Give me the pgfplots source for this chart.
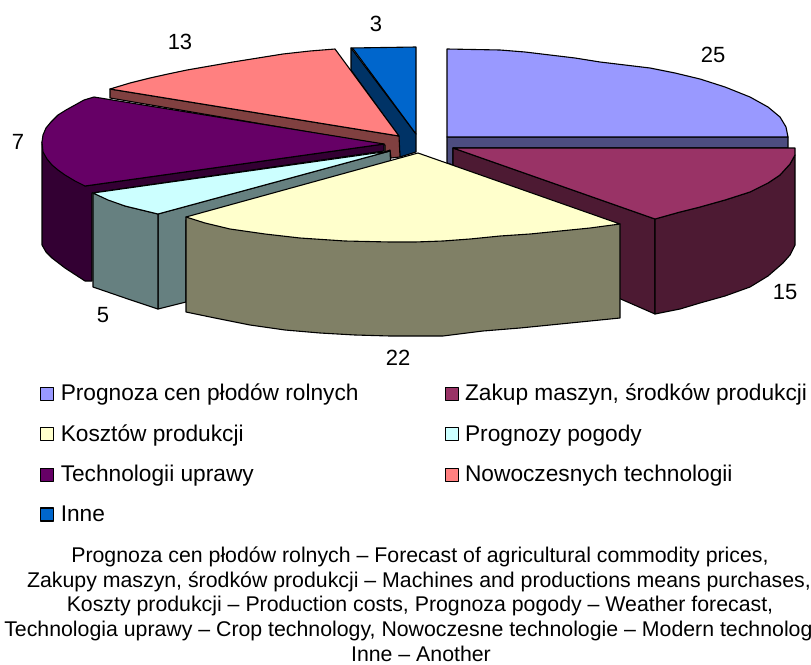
\documentclass[border=0pt]{standalone}
\usepackage{pgfplots}
\pgfplotsset{compat=1.18}
\usepackage{fontspec}
\setmainfont{Liberation Sans}
\definecolor{c1}{HTML}{9999FF}\definecolor{d1}{HTML}{4D4D80}
\definecolor{c2}{HTML}{993366}\definecolor{d2}{HTML}{4D1A33}
\definecolor{c3}{HTML}{FFFFCC}\definecolor{d3}{HTML}{808066}
\definecolor{c4}{HTML}{CCFFFF}\definecolor{d4}{HTML}{668080}
\definecolor{c5}{HTML}{660066}\definecolor{d5}{HTML}{330033}
\definecolor{c6}{HTML}{FF8080}\definecolor{d6}{HTML}{804040}
\definecolor{c7}{HTML}{0066CC}\definecolor{d7}{HTML}{003366}
\newcommand{\lbl}[3]{\node[font=\fontsize{22}{24}\selectfont,inner sep=0pt] at (axis cs:#1,#2) {#3};}
\begin{document}
\begin{tikzpicture}[x=1pt,y=1pt]
\useasboundingbox (0,0) rectangle (811pt,664pt);
\clip (0,0) rectangle (811pt,664pt);
\begin{axis}[
  at={(0,0)},anchor=south west,scale only axis,width=811pt,height=664pt,
  xmin=0,xmax=811,ymin=0,ymax=664,y dir=reverse,hide axis,
  every axis plot/.append style={draw=black,line width=1.1pt,line join=round,no markers},
  area legend,
  legend columns=2,
  legend cell align=left,
  legend style={at={(axis cs:40,381)},anchor=north west,draw=none,fill=none,
    font=\fontsize{22.7}{25}\selectfont,row sep=16.3pt,inner sep=0pt,
    /tikz/every even column/.append style={column sep=83pt},
    nodes={inner sep=3pt}},
  legend image code/.code={\path[draw=none,fill=none] (-3pt,0pt) rectangle (14pt,1pt);\draw[#1,line width=1.1pt] (-3pt,-7pt) rectangle (10pt,6pt);},
]
% Inne
\addplot[fill=d7,forget plot] coordinates {(351,48)(351,70)(398,135)(400,157)(416,152)(416,134)} -- cycle;
% Nowoczesne side
\addplot[fill=d6,forget plot] coordinates {(110,89)(110,98)(385,145)(385,152)(390,150)(391,158)(400,157)(399,136)} -- cycle;
% Prognoza cen side
\addplot[fill=d1,forget plot] coordinates {(447,137)(788,137)(788,148)(453,148)(453,165)(447,163)} -- cycle;
\addplot[fill=c1] coordinates {(447,49)(500,50)(525,52)(550,55)(575,58)(600,62)(625,65)(650,68)(675,73)(700,79)(725,87)(750,97)(768,107)(780,117)(786,127)(788,137)(447,137)} -- cycle;
\addlegendentry{Prognoza cen płodów rolnych}
% Zakup
\addplot[fill=d2,forget plot] coordinates {(453,148)(655,219)(655,314)(600,290)(453,165)} -- cycle;
\addplot[fill=d2,forget plot] coordinates {(655,219)(680,212)(700,207)(725,200)(750,192)(768,183)(780,175)(790,164)(795,155)(795,245)(790,255)(783,263)(768,276)(750,287)(725,296)(700,303)(680,309)(655,314)} -- cycle;
\addplot[fill=c2] coordinates {(453,148)(795,148)(795,155)(790,164)(780,175)(768,183)(750,192)(725,200)(700,207)(680,212)(655,219)} -- cycle;
\addlegendentry{Zakup maszyn, środków produkcji}
% Technologii side
\addplot[fill=d5,forget plot] coordinates {(42,142)(42,245)(46,252)(52,258)(65,268)(85,281)(92,281)(92,193)(384,151)(384,144)(85,186)} -- cycle;
% Prognoza pogody sides
\addplot[fill=d4,forget plot] coordinates {(158,214)(390,151)(391,170)(186,220)(186,302)(158,309)} -- cycle;
\addplot[fill=d4,forget plot] coordinates {(93,193)(93,287)(125,298)(158,309)(158,214)(125,206)} -- cycle;
% Koszty
\addplot[fill=d3,forget plot] coordinates {(186,217)(186,312)(215,318)(250,325)(285,330)(320,333)(355,335)(390,336)(443,336)(483,331)(520,328)(560,324)(590,321)(620,318)(620,224)} -- cycle;
\addplot[fill=c3] coordinates {(418,153)(620,224)(590,228)(560,231)(530,234)(500,236)(470,239)(443,241)(415,242)(390,242)(345,241)(300,238)(265,234)(230,229)(205,223)(186,217)} -- cycle;
\addlegendentry{Kosztów produkcji}
\addplot[fill=c4] coordinates {(390,151)(93,193)(108,200)(125,206)(158,214)} -- cycle;
\addlegendentry{Prognozy pogody}
\addplot[fill=c5] coordinates {(384,144)(94,97)(84,100)(75,105)(66,110)(58,115)(51,122)(46,128)(43,135)(42,142)(43,152)(47,159)(52,165)(58,170)(65,175)(75,181)(85,186)} -- cycle;
\addlegendentry{Technologii uprawy}
\addplot[fill=c6] coordinates {(399,136)(335,49)(310,51)(283,54)(258,58)(233,62)(210,66)(187,70)(168,74)(150,78)(130,83)(110,89)} -- cycle;
\addlegendentry{Nowoczesnych technologii}
\addplot[fill=c7] coordinates {(416,47)(416,134)(354,50)(351,48)} -- cycle;
\addlegendentry{Inne}
\lbl{713}{55}{25}
\lbl{785}{292}{15}
\lbl{398}{358}{22}
\lbl{103}{315}{5}
\lbl{18}{142}{7}
\lbl{180}{42}{13}
\lbl{376}{24}{3}
\begin{scope}[every node/.style={font=\fontsize{21.3}{23}\selectfont,inner sep=0pt}]
\node at (axis cs:420,557) {Prognoza cen płodów rolnych – Forecast of agricultural commodity prices,};
\node at (axis cs:419,582) {Zakupy maszyn, środków produkcji – Machines and productions means purchases,};
\node at (axis cs:420,606) {Koszty produkcji – Production costs, Prognoza pogody – Weather forecast,};
\node at (axis cs:425,631) {Technologia uprawy – Crop technology, Nowoczesne technologie – Modern technologies,};
\node at (axis cs:421,654) {Inne – Another};
\end{scope}
\end{axis}
\end{tikzpicture}
\end{document}
